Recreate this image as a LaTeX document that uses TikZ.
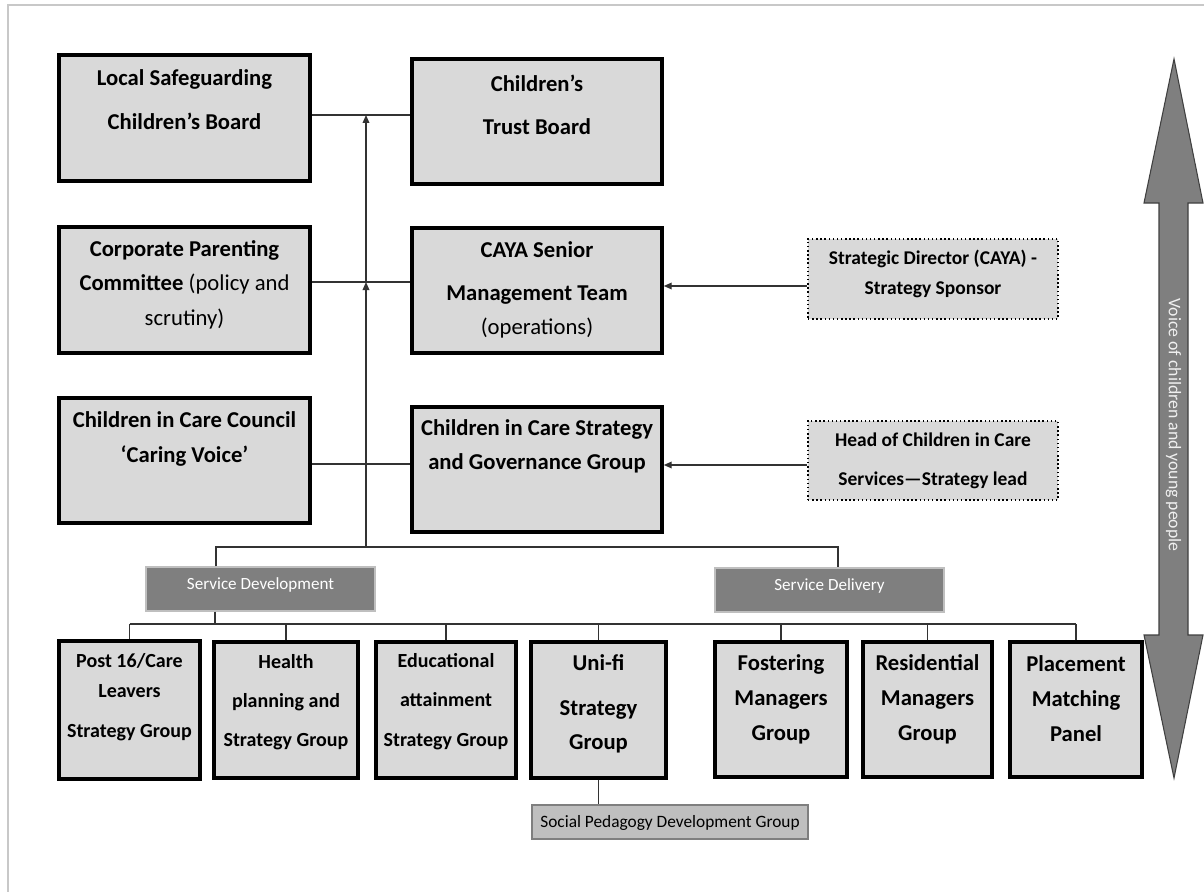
\documentclass[tikz,border=0pt]{standalone}
\usepackage{fontspec}
\setmainfont{Carlito}
\usetikzlibrary{arrows.meta,fit}
\definecolor{boxgray}{HTML}{D9D9D9}
\definecolor{midgray}{HTML}{7F7F7F}
\definecolor{softgray}{HTML}{BFBFBF}
\definecolor{edgegray}{HTML}{C8C8C8}
\begin{document}
\begin{tikzpicture}[x=0.75pt,y=-0.75pt,
  mainbox/.style={draw=black, line width=2.6pt, fill=boxgray, inner sep=0pt},
  dotbox/.style={draw=black, dotted, line width=1.1pt, fill=boxgray, inner sep=0pt},
  sectbox/.style={draw=softgray, line width=0.8pt, fill=midgray, inner sep=0pt},
  subbox/.style={draw=midgray, line width=0.8pt, fill=softgray, inner sep=0pt},
  txt/.style={align=center, inner sep=0pt},
  conn/.style={draw=black!80, line width=0.9pt},
  tip/.style={conn, -{Triangle[length=6pt,width=5pt]}}
]
\useasboundingbox (0,0) rectangle (1204,892);
\draw[edgegray, line width=1.2pt] (8,892) -- (8,5) -- (1204,5);

% top level boxes
\node[mainbox, fit={(59,55) (310,181)}] (lscb) {};
\node[txt, font=\bfseries\fontsize{17}{33}\selectfont] (lscbT) at (184.5,100) {Local Safeguarding\\Children’s Board};
\node[mainbox, fit={(412,59) (662,184)}] (ctb) {};
\node[txt, font=\bfseries\fontsize{17}{32.25}\selectfont] (ctbT) at (537,104.5) {Children’s\\Trust Board};

\node[mainbox, fit={(59,227) (310,353)}] (cpc) {};
\node[txt, font=\bfseries\fontsize{17}{25.9}\selectfont] (cpcT) at (184.5,284.5) {Corporate Parenting\\Committee \textmd{(policy and}\\\textmd{scrutiny)}};
\node[mainbox, fit={(412,228) (662,353)}] (caya) {};
\node[txt, font=\bfseries\fontsize{17}{25.5}\selectfont] (cayaT) at (537,289.5) {CAYA Senior\\[6.75pt]Management Team\\\textmd{(operations)}};

\node[mainbox, fit={(59,398) (310,523)}] (cicc) {};
\node[txt, font=\bfseries\fontsize{17}{26.25}\selectfont] (ciccT) at (184.5,438.5) {Children in Care Council\\‘Caring Voice’};
\node[mainbox, fit={(412,407) (662,532)}] (cicsg) {};
\node[txt, font=\bfseries\fontsize{17}{25.5}\selectfont] (cicsgT) at (537,446) {Children in Care Strategy\\and Governance Group};

% dotted boxes
\node[dotbox, fit={(808,239) (1058,319)}] (sdir) {};
\node[txt, font=\bfseries\fontsize{14.6}{22.5}\selectfont] (sdirT) at (933,274) {Strategic Director (CAYA) -\\Strategy Sponsor};
\node[dotbox, fit={(808,421) (1058,500)}] (hcic) {};
\node[txt, font=\bfseries\fontsize{14.6}{29.25}\selectfont] (hcicT) at (933,460.5) {Head of Children in Care\\Services—Strategy lead};

% section boxes
\node[sectbox, fit={(146,567) (375,611)}] (sd) {};
\node[txt, text=white, font=\fontsize{12.8}{15}\selectfont] (sdT) at (260.5,585) {Service Development};
\node[sectbox, fit={(715,568) (944,612)}] (sdel) {};
\node[txt, text=white, font=\fontsize{12.8}{15}\selectfont] (sdelT) at (829.5,586) {Service Delivery};

% bottom boxes
\node[mainbox, fit={(59,641) (200,779)}] (post16) {};
\node[txt, font=\bfseries\fontsize{15}{22.5}\selectfont] (post16T) at (129.5,697) {Post 16/Care\\Leavers\\[7.5pt]Strategy Group};
\node[mainbox, fit={(214,642) (358,778)}] (health) {};
\node[txt, font=\bfseries\fontsize{15}{29.25}\selectfont] (healthT) at (286,702) {Health\\planning and\\Strategy Group};
\node[mainbox, fit={(376,642) (516,778)}] (edu) {};
\node[txt, font=\bfseries\fontsize{15}{29.5}\selectfont] (eduT) at (446,701.5) {Educational\\attainment\\Strategy Group};
\node[mainbox, fit={(531,642) (666,778)}] (unifi) {};
\node[txt, font=\bfseries\fontsize{17}{25.5}\selectfont] (unifiT) at (598.5,703.5) {Uni-fi\\[8.25pt]Strategy\\Group};
\node[mainbox, fit={(715,642) (847,777)}] (foster) {};
\node[txt, font=\bfseries\fontsize{17}{26.25}\selectfont] (fosterT) at (781,699) {Fostering\\Managers\\Group};
\node[mainbox, fit={(863,642) (992,777)}] (resid) {};
\node[txt, font=\bfseries\fontsize{17}{26.25}\selectfont] (residT) at (927.5,699) {Residential\\Managers\\Group};
\node[mainbox, fit={(1010,642) (1142,777)}] (place) {};
\node[txt, font=\bfseries\fontsize{17}{26.25}\selectfont] (placeT) at (1076,699) {Placement\\Matching\\Panel};

\node[subbox, fit={(532,805) (808,839)}] (soc) {};
\node[txt, font=\fontsize{13}{15}\selectfont] (socT) at (670,823) {Social Pedagogy Development Group};

% connectors
\coordinate (j1) at (366,115);
\coordinate (j2) at (366,282);
\coordinate (j4) at (366,464);
\coordinate (j3) at (366,547);
\draw[conn] (lscb.east |- j1) -- (ctb.west |- j1);
\draw[conn] (cpc.east |- j2) -- (caya.west |- j2);
\draw[conn] (cicc.east |- j4) -- (cicsg.west |- j4);
\draw[tip] (j3) -- (j2);
\draw[tip] (j2) -- (j1);

\coordinate (a1) at (808,286);
\coordinate (a2) at (808,465);
\draw[tip] (sdir.west |- a1) -- (caya.east |- a1);
\draw[tip] (hcic.west |- a2) -- (cicsg.east |- a2);

\coordinate (L) at (216,547);
\coordinate (R) at (838,547);
\draw[conn] (sd.north -| L) -- (L) -- (R) -- (sdel.north -| R);

\coordinate (B) at (215,624);
\draw[conn] (sd.south -| B) -- (B);
\draw[conn] (post16.north |- B) -- (place.north |- B);
\foreach \n in {post16,health,edu,unifi,foster,resid,place}
  \draw[conn] (\n.north) -- (\n.north |- B);
\draw[conn] (unifi.south) -- (soc.north -| unifi.south);

% voice arrow
\draw[fill=midgray, draw=black!75, line width=0.8pt]
  (1174,59) -- (1203,203) -- (1188,203) -- (1188,635) -- (1203,635) -- (1174,778)
  -- (1144,635) -- (1159,635) -- (1159,203) -- (1144,203) -- cycle;
\node[rotate=-90, inner sep=0pt, text=white!94!black, font=\fontsize{13.3}{15}\selectfont] (voice) at (1173.5,425) {Voice of children and young people};
\end{tikzpicture}
\end{document}
